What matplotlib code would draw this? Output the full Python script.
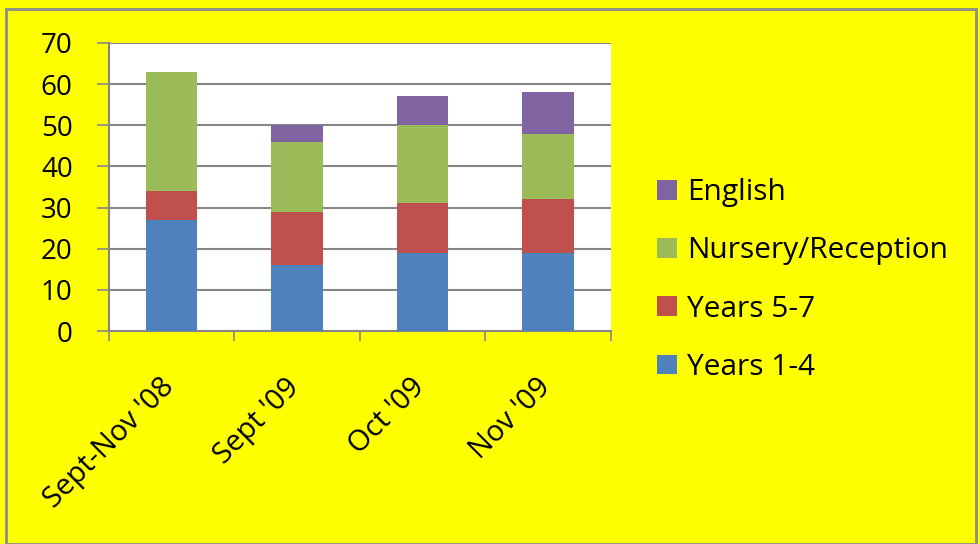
import numpy as np
import matplotlib
matplotlib.use("Agg")
import matplotlib.pyplot as plt
import matplotlib.transforms as mtransforms
from matplotlib.patches import Rectangle

periods = ["Sept-Nov '08", "Sept '09", "Oct '09", "Nov '09"]
years_1_4 = [27, 16, 19, 19]
years_5_7 = [7, 13, 12, 13]
nursery = [29, 17, 19, 16]
english = [0, 4, 7, 10]

plt.rcParams['font.family'] = ['Open Sans', 'DejaVu Sans']

fig = plt.figure(figsize=(9.8, 5.44), dpi=100)
fig.patch.set_facecolor('#ffff00')
fig.patches.append(Rectangle((6 / 980, 0), 970 / 980, 1 - 9 / 544, transform=fig.transFigure,
                             fill=False, edgecolor='#8c8c8c', linewidth=2))

ax = fig.add_axes([0.111, 0.3915, 0.512, 0.5295])
ax.set_facecolor('white')

x = np.arange(len(periods))
w = 0.41
series = [("Years 1-4", years_1_4, '#4f81bd'),
          ("Years 5-7", years_5_7, '#c0504d'),
          ("Nursery/Reception", nursery, '#9bbb59'),
          ("English", english, '#8064a2')]
bottom = np.zeros(len(periods))
handles = []
for name, vals, col in series:
    b = ax.bar(x, vals, w, bottom=bottom, color=col, label=name, zorder=3)
    handles.append(b)
    bottom += np.array(vals)

ax.set_xlim(-0.5, len(periods) - 0.5)
ax.set_ylim(0, 70)
ax.set_yticks(range(0, 71, 10))
ax.yaxis.grid(True, color='#868686', linewidth=1.5, zorder=0)
ax.tick_params(axis='y', length=9, width=1.2, color='#868686', labelsize=20, pad=17)

# major ticks sit between categories, labels go on the minor ticks
ax.set_xticks(np.arange(-0.5, len(periods), 1.0))
ax.set_xticklabels([])
ax.tick_params(axis='x', length=7, width=1.2, color='#868686', direction='out')
ax.set_xticks(x, minor=True)
ax.set_xticklabels(periods, minor=True, rotation=45, ha='right', va='top',
                   rotation_mode='anchor', fontsize=21)
ax.tick_params(axis='x', which='minor', length=0, pad=30)
shift = mtransforms.ScaledTranslation(-0.12, 0, fig.dpi_scale_trans)
for lab in ax.get_xticklabels(minor=True):
    lab.set_transform(lab.get_transform() + shift)

for s in ['top', 'right']:
    ax.spines[s].set_visible(False)
for s in ['left', 'bottom']:
    ax.spines[s].set_color('#868686')
    ax.spines[s].set_linewidth(1.5)

ax.legend(handles[::-1], [s[0] for s in series][::-1], loc='center left',
          bbox_to_anchor=(1.04, 0.177), frameon=False, fontsize=21.5,
          handlelength=0.64, handleheight=0.64, labelspacing=0.98, handletextpad=0.35)

fig.savefig("out.png", dpi=100, facecolor=fig.get_facecolor())
